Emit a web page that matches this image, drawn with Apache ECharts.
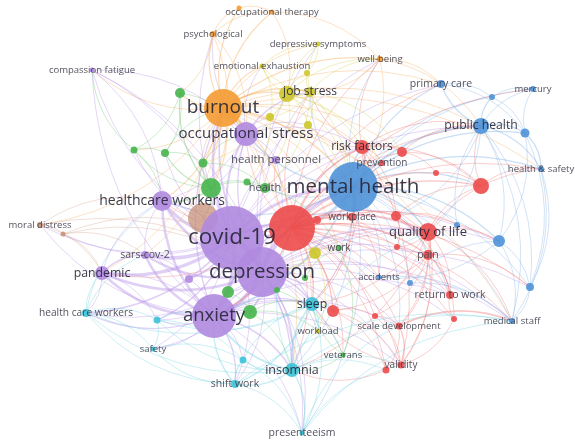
<!DOCTYPE html>
<html><head><meta charset="utf-8">
<script src="https://cdn.jsdelivr.net/npm/echarts@6/dist/echarts.min.js"></script>
<style>html,body{margin:0;padding:0;background:#fff}#c{width:575px;height:440px}</style>
</head><body><div id="c"></div>
<script>
// ---- DATA: [keyword, mapX, mapY, weight] per cluster ----
const purpleNodes = [
 ['covid-19',232,238,64],['depression',262,272,50],['anxiety',214,316,44],
 ['occupational stress',246,134,24],['healthcare workers',162,201,20],
 ['health personnel',276,160,8],['sars-cov-2',145,255,8],['pandemic',102,273,14],
 ['compassion fatigue',92,70,5],['p1',189,279,8]
];
const redNodes = [
 ['r_big',292,228,46],['risk factors',362,147,14],['prevention',382,163,6],['r2',402,152,10],
 ['workplace',352,217,8],['quality of life',428,232,18],['pain',428,255,10],['r3',396,216,10],
 ['r4',481,186,16],['r5',436,173,6],['r6',397,247,6],['return to work',450,295,8],
 ['r7',454,319,6],['r8',333,311,12],['r9',375,316,6],['scale development',399,326,7],
 ['validity',401,365,7],['r10',386,370,7],['r11',317,220,8]
];
const blueNodes = [
 ['mental health',353,187,50],['public health',481,126,16],['primary care',441,84,8],
 ['mercury',533,89,6],['b1',492,97,6],['b2',525,133,9],['health & safety',541,169,6],
 ['b3',499,241,12],['b4',530,287,8],['medical staff',512,321,6],['accidents',379,277,5],
 ['b5',410,283,6],['b6',457,225,6]
];
const greenNodes = [
 ['g1',211,188,20],['g2',180,93,10],['g3',134,150,7],['g4',165,153,8],['g5',203,163,9],
 ['g6',247,182,7],['health',265,188,10],['g7',228,292,12],['g8',250,312,14],['g9',277,290,6],
 ['work',339,248,6],['veterans',343,355,5],['g10',305,278,6]
];
const yellowNodes = [
 ['job stress',310,92,10],['y1',287,94,16],['emotional exhaustion',262,66,5],
 ['depressive symptoms',318,44,5],['y2',307,73,6],['y3',308,125,8],['y4',270,117,8],
 ['y5',315,253,12],['workload',318,331,5]
];
const orangeNodes = [
 ['burnout',223,108,38],['psychological',213,34,6],['occupational therapy',272,12,5],
 ['o1',239,8,5],['well-being',380,59,6]
];
const cyanNodes = [
 ['insomnia',292,370,14],['sleep',312,304,14],['shift work',235,384,8],['presenteeism',302,433,5],
 ['health care workers',86,313,8],['safety',153,349,5],['c1',157,320,7],['c2',243,360,7]
];
const brownNodes = [
 ['moral distress',40,225,6],['n1',63,234,5],['n2',203,218,30]
];
// co-occurrence links [source, target, strength]
const links = [
 ['covid-19','depression',5],['covid-19','anxiety',5],['covid-19','burnout',3],['covid-19','mental health',3.5],
 ['covid-19','r_big',3.5],['covid-19','healthcare workers',4],['covid-19','pandemic',4],['covid-19','sars-cov-2',4],
 ['covid-19','occupational stress',2.5],['covid-19','insomnia',1.5],['covid-19','sleep',1.5],['covid-19','health care workers',2],
 ['covid-19','moral distress',1],['covid-19','compassion fatigue',1],['covid-19','psychological',1],['covid-19','public health',1],
 ['covid-19','quality of life',1],['covid-19','risk factors',1],['covid-19','shift work',1],['covid-19','safety',1],
 ['covid-19','g1',1.5],['covid-19','presenteeism',1],['covid-19','health personnel',1],['covid-19','n2',2],
 ['covid-19','p1',2],['covid-19','c1',1.5],['covid-19','well-being',1],['covid-19','primary care',1],['covid-19','medical staff',1],
 ['covid-19','g3',1],['covid-19','g4',1],['covid-19','n1',1],['covid-19','accidents',1],['covid-19','b3',1],
 ['depression','anxiety',5],['depression','burnout',2],['depression','mental health',3],['depression','r_big',3],
 ['depression','insomnia',2],['depression','sleep',2],['depression','quality of life',1.5],['depression','pain',1],
 ['depression','job stress',1],['depression','occupational stress',1.5],['depression','shift work',1],['depression','depressive symptoms',1],
 ['depression','validity',1],['depression','scale development',1],['depression','workload',1],['depression','veterans',1],
 ['depression','risk factors',1],['depression','return to work',1],['depression','health care workers',1],['depression','pandemic',3],
 ['depression','g7',1.5],['depression','g8',1.5],['depression','presenteeism',1],['depression','r8',1],['depression','b3',1],
 ['depression','sars-cov-2',3],['depression','healthcare workers',3],['depression','safety',1],['depression','c1',1],
 ['depression','medical staff',1],['depression','r7',1],['depression','b4',1],
 ['anxiety','burnout',1.5],['anxiety','mental health',2],['anxiety','insomnia',2],['anxiety','sleep',1.5],['anxiety','shift work',1.5],
 ['anxiety','safety',1],['anxiety','health care workers',1.5],['anxiety','pandemic',3],['anxiety','c2',1],['anxiety','c1',1],
 ['anxiety','presenteeism',1],['anxiety','sars-cov-2',3],['anxiety','healthcare workers',3],['anxiety','g8',1.5],['anxiety','r8',1],
 ['anxiety','scale development',1],['anxiety','validity',1],['anxiety','moral distress',1],['anxiety','compassion fatigue',1],
 ['anxiety','quality of life',1],['anxiety','return to work',1],
 ['burnout','mental health',2],['burnout','occupational stress',3],['burnout','job stress',2],['burnout','emotional exhaustion',1.5],
 ['burnout','psychological',1.5],['burnout','occupational therapy',1.5],['burnout','o1',1.5],['burnout','well-being',1.5],
 ['burnout','compassion fatigue',1],['burnout','healthcare workers',1.5],['burnout','g2',1.5],['burnout','g1',1.5],['burnout','g5',1],
 ['burnout','health',1],['burnout','depressive symptoms',1],['burnout','risk factors',1],['burnout','public health',1],
 ['burnout','quality of life',1],['burnout','r_big',1.5],['burnout','moral distress',1],['burnout','primary care',1],['burnout','y1',1.5],
 ['burnout','g3',1],['burnout','insomnia',1],['burnout','sleep',1],['burnout','medical staff',1],['burnout','pandemic',1],
 ['burnout','sars-cov-2',1],['burnout','workplace',1],['burnout','r2',1],['burnout','health & safety',1],['burnout','work',1],
 ['mental health','r_big',3.5],['mental health','public health',2.5],['mental health','primary care',1.5],['mental health','mercury',1],
 ['mental health','health & safety',1.5],['mental health','b1',1],['mental health','b2',1.5],['mental health','b3',1.5],['mental health','b4',1],
 ['mental health','risk factors',1.5],['mental health','prevention',1],['mental health','workplace',1.5],['mental health','quality of life',1.5],
 ['mental health','pain',1],['mental health','accidents',1],['mental health','return to work',1],['mental health','medical staff',1],
 ['mental health','occupational stress',1.5],['mental health','job stress',1],['mental health','well-being',1],['mental health','sleep',1],
 ['mental health','insomnia',1],['mental health','work',1],['mental health','health',1],['mental health','presenteeism',1],
 ['mental health','r4',1.5],['mental health','r2',1],['mental health','healthcare workers',1.5],['mental health','b5',1],
 ['mental health','anxiety',2],['mental health','b6',1],['mental health','scale development',1],
 ['r_big','risk factors',2],['r_big','prevention',1.5],['r_big','workplace',1.5],['r_big','quality of life',2],['r_big','pain',1.5],
 ['r_big','r2',1],['r_big','r3',1.5],['r_big','r4',1.5],['r_big','r5',1],['r_big','r6',1],['r_big','validity',1],
 ['r_big','scale development',1],['r_big','return to work',1],['r_big','accidents',1],['r_big','sleep',1.5],['r_big','insomnia',1],
 ['r_big','occupational stress',1],['r_big','job stress',1],['r_big','work',1],['r_big','veterans',1],['r_big','medical staff',1],
 ['r_big','health & safety',1],['r_big','public health',1],['r_big','r8',1.5],['r_big','r9',1],['r_big','r7',1],['r_big','r10',1],
 ['r_big','healthcare workers',1],['r_big','anxiety',2],['r_big','well-being',1],['r_big','b3',1],['r_big','b4',1],
 ['r_big','mercury',1],['r_big','primary care',1],['r_big','health personnel',1],['r_big','pandemic',1],
 ['quality of life','pain',1.5],['quality of life','r4',1],['quality of life','return to work',1],['quality of life','scale development',1],
 ['quality of life','validity',1],['quality of life','b3',1],['pain','return to work',1],['pain','r7',1],['pain','validity',1],
 ['quality of life','risk factors',1],['quality of life','r3',1],['quality of life','r6',1],['quality of life','workplace',1],
 ['quality of life','sleep',1],['quality of life','insomnia',1],['quality of life','health & safety',1],['quality of life','medical staff',1],
 ['pain','r8',1],['pain','r9',1],['pain','scale development',1],['pain','accidents',1],['pain','b4',1],
 ['scale development','medical staff',2],['scale development','validity',1.5],['scale development','r10',1],['r8','r9',1],
 ['risk factors','r2',1],['risk factors','prevention',1],['r4','health & safety',1],['r4','public health',1],['r3','b6',1],
 ['r3','return to work',1],['validity','sleep',1],['r10','insomnia',1],['r8','validity',1],['r8','r10',1],
 ['risk factors','workplace',1],['risk factors','r3',1],['risk factors','r4',1],['risk factors','job stress',1],['risk factors','y3',1],
 ['risk factors','well-being',1],['risk factors','public health',1],['risk factors','sleep',1],['risk factors','validity',1],
 ['r2','r4',1],['r2','r5',1],['r2','public health',1],['r3','r6',1],['r3','r4',1],['r3','pain',1],['r6','return to work',1],
 ['r9','scale development',1],['r9','validity',1],['r7','return to work',1],['r7','validity',1],['r11','workplace',1],
 ['workplace','r3',1],['workplace','prevention',1],['workplace','sleep',1],['workplace','accidents',1],['r5','r4',1],
 ['public health','primary care',1.5],['public health','mercury',1],['public health','b1',1.5],['public health','b2',1.5],
 ['public health','health & safety',1.5],['public health','b3',1],['public health','b4',1],['public health','medical staff',1],
 ['public health','quality of life',1],['public health','r3',1],['b1','mercury',1],['b2','health & safety',1.5],['b2','b4',1],
 ['health & safety','b4',1],['b4','medical staff',1],['b3','accidents',1],['b5','b3',1],['health & safety','medical staff',1],
 ['primary care','b1',1],['accidents','medical staff',1],['b2','mercury',1],['b2','b3',1],['b3','b4',1],['primary care','b2',1],
 ['b3','medical staff',1],['b6','public health',1],['b5','medical staff',1],['b1','b2',1],
 ['occupational stress','job stress',1.5],['occupational stress','health personnel',1],['occupational stress','g1',1],
 ['occupational stress','emotional exhaustion',1],['occupational stress','y3',1],['occupational stress','y4',1],
 ['occupational stress','psychological',1],['occupational stress','healthcare workers',1],['occupational stress','risk factors',1],
 ['job stress','y1',1.5],['job stress','y2',1],['job stress','y3',1],['job stress','depressive symptoms',1],['job stress','emotional exhaustion',1],
 ['job stress','well-being',1],['job stress','r2',1],['job stress','workplace',1],['job stress','health',1],['job stress','y4',1],
 ['y1','y4',1],['y1','emotional exhaustion',1],['y1','depressive symptoms',1],['y1','risk factors',1],['y1','well-being',1],
 ['y1','y3',1],['y1','y2',1],['y1','g5',1],['y1','health personnel',1],['y1','mental health',1],['y1','prevention',1],
 ['y3','workplace',1],['y5','work',1],['y5','workload',1],['y5','depression',1.5],['y5','r_big',1],['y4','g6',1],
 ['emotional exhaustion','depressive symptoms',1],['emotional exhaustion','y4',1],['depressive symptoms','y2',1],
 ['psychological','occupational therapy',1],['psychological','o1',1],['well-being','mental health',1],['well-being','public health',1],
 ['o1','occupational therapy',1],['occupational therapy','well-being',1],['psychological','g2',1],['psychological','g1',1],
 ['well-being','primary care',1],['well-being','job stress',1],['occupational therapy','y1',1],['psychological','occupational stress',1],
 ['g1','g2',1.5],['g1','g3',1],['g1','g4',1.5],['g1','g5',1.5],['g1','g6',1],['g1','health',1],['g1','healthcare workers',1.5],
 ['g2','g3',1],['g2','g4',1],['g3','g4',1],['g3','healthcare workers',1],['g4','g5',1],['g5','health',1],['g6','health',1],
 ['g7','g8',1],['g8','g9',1],['g8','sleep',1],['g10','work',1],['work','veterans',1],['veterans','insomnia',1],['g9','veterans',1],
 ['g3','compassion fatigue',1],['g4','burnout',1],['g1','n2',1.5],['g2','occupational stress',1],['g5','occupational stress',1],
 ['g7','anxiety',1],['g8','insomnia',1],['g8','workload',1],['veterans','sleep',1],['g1','depression',1],['health','work',1],
 ['insomnia','sleep',2],['insomnia','shift work',1.5],['insomnia','presenteeism',1.5],['insomnia','c2',1],['insomnia','workload',1],
 ['sleep','shift work',1.5],['sleep','workload',1],['sleep','presenteeism',1],['shift work','c2',1.5],['shift work','presenteeism',1],
 ['shift work','safety',1],['health care workers','c1',1],['health care workers','safety',1],['health care workers','pandemic',1],
 ['c1','safety',1],['c1','c2',1],['c2','presenteeism',1],['health care workers','sars-cov-2',1],['insomnia','validity',1],
 ['insomnia','r_big',1],['presenteeism','scale development',1],['shift work','medical staff',1],
 ['insomnia','anxiety',2],['insomnia','health care workers',1],['insomnia','medical staff',1],['insomnia','r10',1],
 ['insomnia','quality of life',1],['insomnia','c1',1],['sleep','health care workers',1],['sleep','c1',1],['sleep','r8',1],
 ['shift work','health care workers',1],['shift work','anxiety',1.5],['presenteeism','validity',1],['presenteeism','medical staff',1],
 ['c1','anxiety',1],['c2','sleep',1],['safety','c2',1],['health care workers','healthcare workers',1],
 ['moral distress','n1',1],['n1','covid-19',1],['n1','sars-cov-2',1],['moral distress','pandemic',1],['n2','depression',1.5],
 ['n2','burnout',1],['moral distress','healthcare workers',1],['n1','pandemic',1],['n1','depression',1],['moral distress','depression',1],
 ['pandemic','sars-cov-2',1.5],['pandemic','healthcare workers',1],['pandemic','c1',1],['pandemic','health care workers',1],
 ['compassion fatigue','healthcare workers',1],['compassion fatigue','covid-19',1],['sars-cov-2','healthcare workers',1],
 ['compassion fatigue','depression',1],['compassion fatigue','occupational stress',1],
 ['p1','anxiety',1],['p1','depression',1],['health personnel','burnout',1],['health personnel','depression',1],
 ['pandemic','anxiety',1],['sars-cov-2','p1',1],['healthcare workers','depression',1.5]
];
// label sizes per keyword (px)
const labelFont = {
 'covid-19':22.5,'depression':20.5,'burnout':19,'mental health':20.5,'anxiety':18.5,'occupational stress':15,
 'healthcare workers':14,'risk factors':12,'quality of life':13,'public health':12.2,'job stress':12,'insomnia':12.5,
 'sleep':12.3,'pandemic':12.3,'health personnel':11.4,'health':11,'presenteeism':10.5,'psychological':9.5,
 'occupational therapy':9.5,'emotional exhaustion':9.5,'depressive symptoms':9.5,'well-being':9.5,'primary care':10.5,
 'mercury':9.5,'health & safety':9.5,'prevention':10,'workplace':10,'work':10,'pain':10.5,'sars-cov-2':10.5,
 'moral distress':9.5,'compassion fatigue':9.5,'health care workers':10.2,'accidents':9.5,'return to work':10.5,
 'scale development':9.5,'medical staff':9.5,'workload':9.5,'veterans':9.5,'validity':10,'safety':9.5,'shift work':10.5
};
const labelOffset = {'mental health':[0,2],'sleep':[4,0],'covid-19':[1,2],'depression':[-2,0],'burnout':[1,0],'occupational stress':[0,2],'public health':[-1,-2]};
const clusterColors = {P:'#b08ae0',R:'#ec4a4a',B:'#4f92d8',G:'#46b54c',Y:'#cdc72a',O:'#f49a32',C:'#3cc2d8',N:'#c8917a'};
const edgeColors = {P:'#b48fe6',R:'#f07474',B:'#7fb0e6',G:'#6cc86f',Y:'#d6d04a',O:'#f6ae5e',C:'#6fd3e4',N:'#d4a590'};

const groups = [[purpleNodes,'P'],[redNodes,'R'],[blueNodes,'B'],[greenNodes,'G'],[yellowNodes,'Y'],[orangeNodes,'O'],[cyanNodes,'C'],[brownNodes,'N']];
const nodes = [];
const clusterOf = {};
groups.forEach(([arr,k]) => arr.forEach(([name,x,y,w]) => {
  clusterOf[name] = k;
  const fs = labelFont[name];
  nodes.push({
    name: name, value: [x,y], symbolSize: w,
    itemStyle: {color: clusterColors[k], opacity: name === 'n2' ? 0.75 : 0.9},
    label: fs ? {show:true, fontSize: fs, offset: labelOffset[name] || [0,0],
      color: fs >= 12 ? '#262636' : '#40404e'} : {show:false}
  });
}));
nodes.sort((a,b)=>{
  if (a.name==='n2') return -1; if (b.name==='n2') return 1;
  return b.symbolSize-a.symbolSize;
});
const edges = links.map(([s,t,w]) => ({source:s, target:t,
  lineStyle:{width: w*0.85, color: edgeColors[clusterOf[s]]}}));

const chart = echarts.init(document.getElementById('c'));
chart.setOption({
  animation:false,
  backgroundColor:'#ffffff',
  grid:{left:0,right:0,top:0,bottom:0},
  xAxis:{type:'value',min:0,max:575,show:false},
  yAxis:{type:'value',min:0,max:440,inverse:true,show:false},
  series:[{
    type:'graph', coordinateSystem:'cartesian2d', symbol:'circle',
    data: nodes, links: edges,
    lineStyle:{opacity:0.42, curveness:0.22},
    label:{show:true, position:'inside', fontFamily:'Open Sans', fontWeight:'normal'},
    emphasis:{disabled:true},
    labelLayout:{hideOverlap:false}
  }]
});
</script></body></html>
